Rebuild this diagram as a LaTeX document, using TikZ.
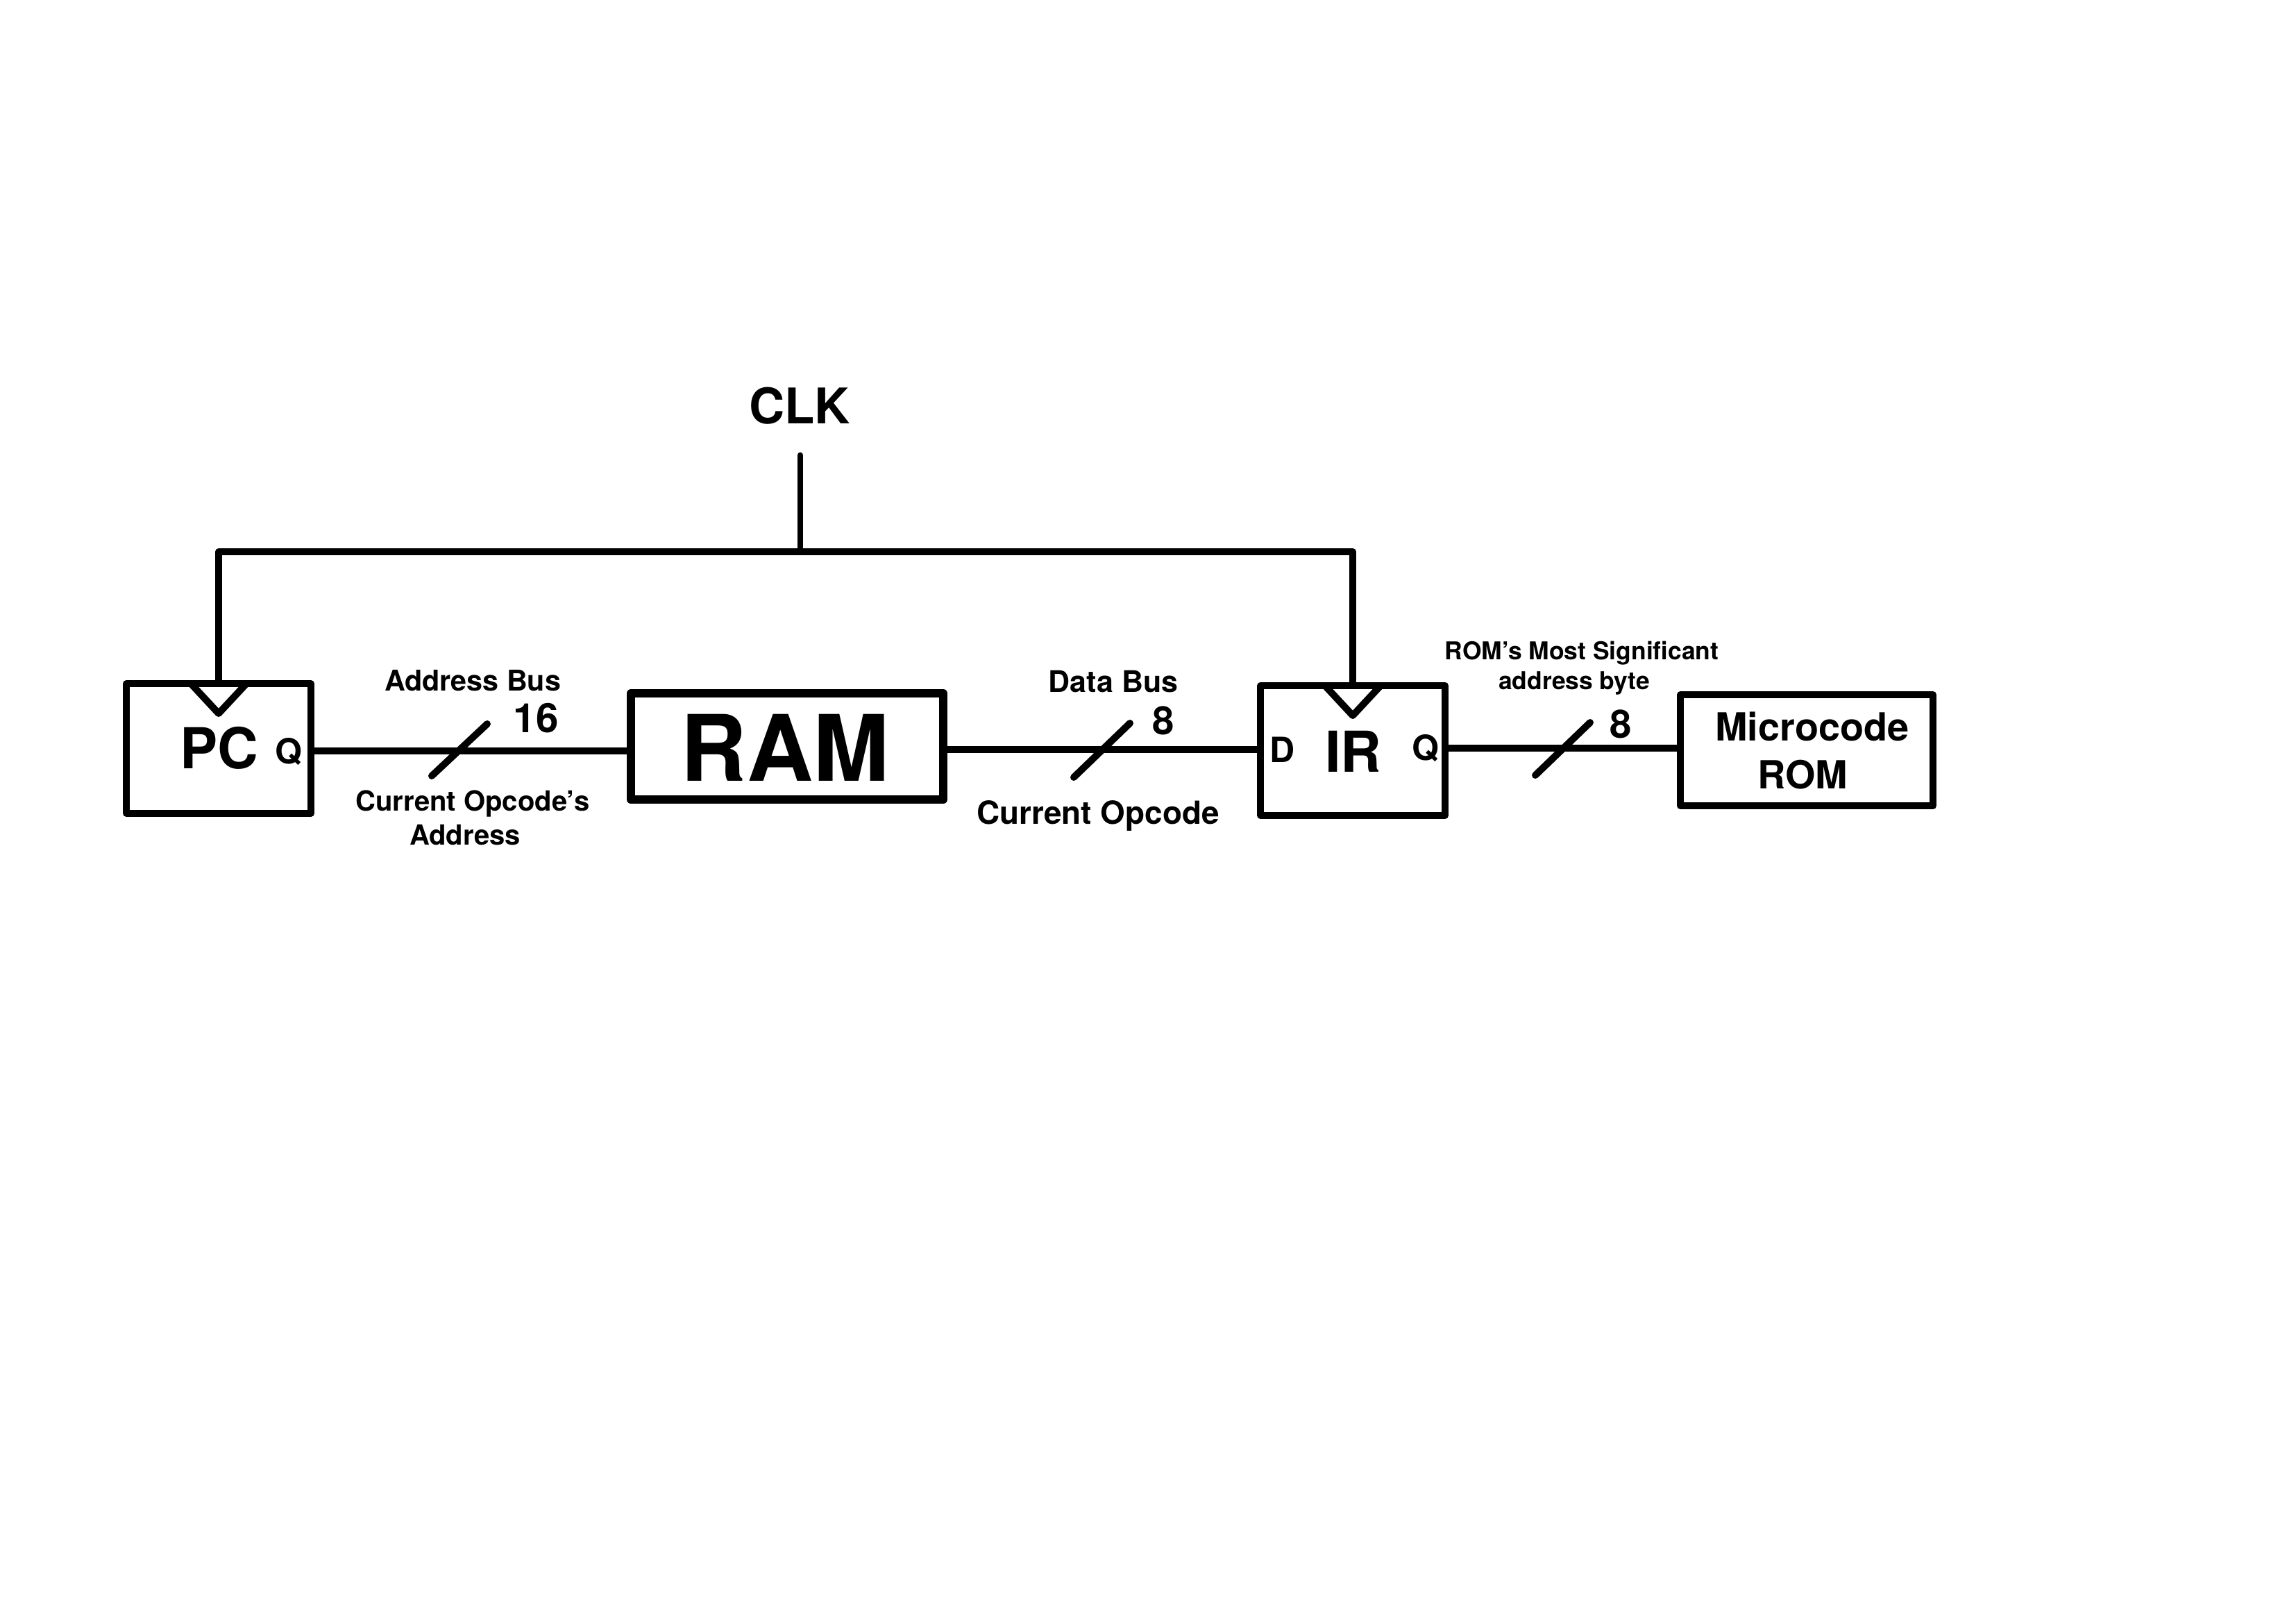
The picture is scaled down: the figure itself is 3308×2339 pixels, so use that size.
\documentclass[tikz,border=0pt]{standalone}
\usepackage{fontspec}
\setmainfont{TeX Gyre Heros}
\usetikzlibrary{calc}
\begin{document}
\begin{tikzpicture}[x=0.24pt,y=-0.24pt,
  box/.style={draw, line width=2.4pt, line join=round, inner sep=0pt, outer sep=0pt},
  wire/.style={line width=2.2pt},
  slash/.style={line width=2.4pt, line cap=round},
  clkwire/.style={line width=2.4pt, line join=round},
  txt/.style={inner sep=0pt, anchor=base, font=\bfseries\fontsize{#1}{#1}\selectfont},
]
\fill[white] (0,0) rectangle (3308,2339);
\useasboundingbox (0,0) rectangle (3308,2339);

% boxes
\node[box, minimum width=63.84pt, minimum height=44.88pt] (pc) at (315,1078.5) {};
\node[box, line width=2.9pt, minimum width=108pt, minimum height=36.72pt] (ram) at (1134,1075.5) {};
\node[box, minimum width=63.84pt, minimum height=44.88pt] (ir) at (1949,1081.5) {};
\node[box, minimum width=87.36pt, minimum height=38.4pt] (rom) at (2603,1081) {};

% clock triangles
\draw[line width=2.4pt, line join=round] ($(pc.north)+(-40,0)$) -- ($(pc.north)+(0,43)$) -- ($(pc.north)+(40,0)$);
\draw[line width=2.4pt, line join=round] ($(ir.north)+(-40,0)$) -- ($(ir.north)+(0,43)$) -- ($(ir.north)+(40,0)$);

% texts in boxes
\node[txt=19.5] (pctxt) at (316,1107) {PC};
\node[txt=12] (pcq) at (416,1100) {Q};
\node[txt=31.7] (ramtxt) at (1131,1125) {RAM};
\node[txt=12] (ird) at (1848,1098) {D};
\node[txt=19.5] (irtxt) at (1950,1112) {IR};
\node[txt=12] (irq) at (2054,1095) {Q};
\node[txt=13.4] (romtxt1) at (2611,1067) {Microcode};
\node[txt=13.4] (romtxt2) at (2597,1136) {ROM};

% clock
\node[txt=17] (clk) at (1152,610) {CLK};
\coordinate (clktop) at (1153,656);
\coordinate (clkj) at (1153,795);
\draw[line width=2.1pt, line cap=round] (clkj) -- (clktop);
\draw[clkwire] (pc.north) -- (pc.north |- clkj) -- (ir.north |- clkj) -- (ir.north);

% buses
\coordinate (ya) at (0,1082);
\coordinate (yb) at (0,1080);
\coordinate (yc) at (0,1078);
\draw[wire] (pc.east |- ya) -- (ram.west |- ya);
\draw[wire] (ram.east |- yb) -- (ir.west |- yb);
\draw[wire] (ir.east |- yc) -- (rom.west |- yc);

% bus slashes
\draw[slash] (622,1118) -- (702,1043);
\draw[slash] (1547,1120) -- (1628,1042);
\draw[slash] (2212,1117) -- (2291,1041);

% bus labels
\node[txt=9.9] (abus) at (681,995) {Address Bus};
\node[txt=14] (a16) at (772,1055) {16};
\node[txt=9.6] (acur1) at (681,1168) {Current Opcode’s};
\node[txt=9.6] (acur2) at (670,1217) {Address};

\node[txt=10.3] (dbus) at (1604,997) {Data Bus};
\node[txt=13.5] (d8) at (1676,1058) {8};
\node[txt=11] (dcur) at (1582,1187) {Current Opcode};

\node[txt=8.5] (rmsb1) at (2279,950) {ROM’s Most Significant};
\node[txt=8.5] (rmsb2) at (2268,993) {address byte};
\node[txt=13.5] (r8) at (2335,1063) {8};
\end{tikzpicture}
\end{document}
